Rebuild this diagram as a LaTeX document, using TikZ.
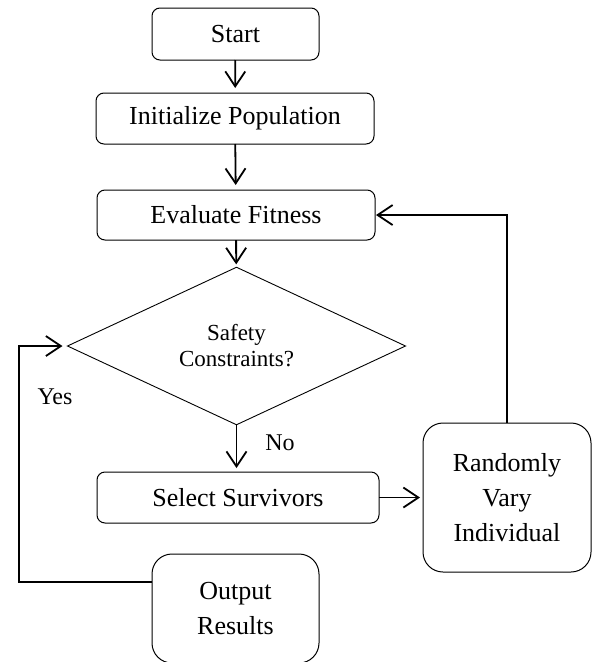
\documentclass[tikz,border=0pt]{standalone}
\usepackage{fontspec}
\setmainfont{Liberation Serif}
\usetikzlibrary{arrows.meta,shapes.geometric,calc}
\begin{document}
\begin{tikzpicture}[x=1pt,y=-1pt,
  box/.style={draw, line width=1pt, rounded corners=8pt, inner sep=0pt, outer sep=0pt,
    align=center, font=\fontsize{26}{35}\selectfont},
  bigbox/.style={box, rounded corners=20pt},
  decision/.style={draw, diamond, line width=0.9pt, inner sep=0pt, outer sep=0pt,
    align=center, font=\fontsize{23}{26}\selectfont},
  conn/.style={line width=1.8pt, -{Straight Barb[length=15pt,width=20pt]}},
  plainline/.style={line width=1.8pt},
  lbl/.style={font=\fontsize{24}{28}\selectfont, inner sep=0pt}
]
\useasboundingbox (0,0) rectangle (593,662);

\node[box, minimum width=167pt, minimum height=52pt] (start) at (235.5,34) {Start};
\node[box, minimum width=278pt, minimum height=51pt] (init) at (235,118.5) {Initialize Population};
\node[box, minimum width=278pt, minimum height=50pt] (eval) at (236,215) {Evaluate Fitness};
\node[decision, minimum width=338pt, minimum height=146pt] (dia) at (236.5,346) {Safety\\Constraints?};
\node[box, minimum width=282pt, minimum height=51pt] (select) at (238,497.5) {Select Survivors};
\node[bigbox, minimum width=168pt, minimum height=149pt] (rand) at (507,497.5) {Randomly\\Vary\\Individual};
\node[bigbox, minimum width=167pt, minimum height=109pt] (out) at (235.5,608.5) {Output\\Results};

\node[lbl] (yes) at (55,397) {Yes};
\node[lbl] (no) at (280,443) {No};

\draw[conn, shorten >=5pt] (start) -- (init);
\draw[conn, shorten >=5pt] (init) -- (eval);
\draw[conn, shorten >=3pt] (eval) -- (dia);
\draw[conn, shorten >=4pt] (dia.south) -- (select.north -| dia.south);
\draw[conn, shorten >=3pt] (select.east) -- (rand.west |- select.east);
\draw[conn, shorten >=1pt] (rand.north) |- (eval.east);

\coordinate (yesstart) at ($(out.north west)+(0,28)$);
\coordinate (yescorner) at (19,582);
\draw[conn, shorten >=5pt] (yesstart) -- (yescorner) |- (dia.west);
\end{tikzpicture}
\end{document}
